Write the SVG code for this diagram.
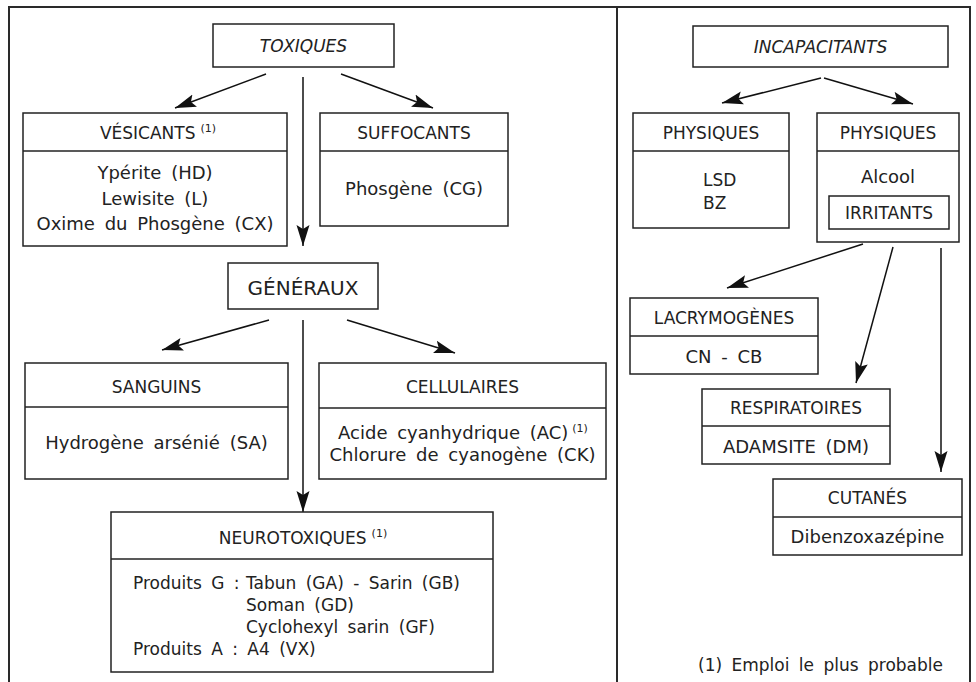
<svg xmlns="http://www.w3.org/2000/svg" width="976" height="682" viewBox="0 0 976 682">
<style>
.frame{fill:none;stroke:#2a2a2a;stroke-width:2}
.box{fill:#fff;stroke:#222;stroke-width:1.5}
.dv{stroke:#222;stroke-width:1.5}
.t{font-family:"DejaVu Sans",sans-serif;font-size:17px;fill:#222;text-anchor:middle}
.b{word-spacing:4px;font-size:18px}
.n{word-spacing:4px}
.it{font-style:italic}
.g{font-size:20px}
.l{text-anchor:start}
.sup{font-size:11px;word-spacing:0}
.conn{stroke:#111;stroke-width:1.5;fill:none;marker-end:url(#ah)}
</style>
<defs>
<marker id="ah" markerWidth="22" markerHeight="14" refX="21" refY="7" orient="auto" markerUnits="userSpaceOnUse">
<path d="M0,0.5 L21,7 L0,13.5 L4,7 z" fill="#111"/>
</marker>
</defs>
<rect width="976" height="682" fill="#fff"/>
<g id="frame">
<path class="frame" d="M9,682 V7 H970 V682"/>
<path class="frame" d="M617,7 V682"/>
</g>
<g id="connectors">
<line class="conn" x1="266" y1="74" x2="175" y2="108"/>
<line class="conn" x1="341" y1="74" x2="433" y2="108"/>
<line class="conn" x1="303" y1="77" x2="303" y2="246"/>
<line class="conn" x1="269" y1="320" x2="162" y2="350"/>
<line class="conn" x1="347" y1="320" x2="455" y2="353"/>
<line class="conn" x1="303" y1="320" x2="303" y2="512"/>
<line class="conn" x1="821" y1="78" x2="722" y2="103"/>
<line class="conn" x1="824" y1="78" x2="913" y2="104"/>
<line class="conn" x1="863" y1="244" x2="727" y2="288"/>
<line class="conn" x1="893" y1="247" x2="856" y2="383"/>
<line class="conn" x1="941" y1="248" x2="941" y2="472"/>
</g>
<g id="toxiques">
<rect class="box" x="213" y="24" width="181" height="43"/>
<text class="t it" x="303.5" y="52">TOXIQUES</text>
</g>
<g id="vesicants">
<rect class="box" x="23" y="113" width="264" height="133"/>
<line class="dv" x1="23" y1="151" x2="287" y2="151"/>
<text class="t" x="158" y="139">VÉSICANTS<tspan class="sup" dx="5" dy="-7">(1)</tspan></text>
<text class="t b" x="155" y="179">Ypérite (HD)</text>
<text class="t b" x="155" y="205">Lewisite (L)</text>
<text class="t b" x="155" y="230">Oxime du Phosgène (CX)</text>
</g>
<g id="suffocants">
<rect class="box" x="320" y="113" width="188" height="113"/>
<line class="dv" x1="320" y1="151" x2="508" y2="151"/>
<text class="t" x="414" y="139">SUFFOCANTS</text>
<text class="t b" x="414" y="195">Phosgène (CG)</text>
</g>
<g id="generaux">
<rect class="box" x="228" y="263" width="150" height="46"/>
<text class="t g" x="303" y="295">GÉNÉRAUX</text>
</g>
<g id="sanguins">
<rect class="box" x="25" y="363" width="263" height="116"/>
<line class="dv" x1="25" y1="407" x2="288" y2="407"/>
<text class="t" x="156.5" y="393">SANGUINS</text>
<text class="t b" x="156.5" y="449">Hydrogène arsénié (SA)</text>
</g>
<g id="cellulaires">
<rect class="box" x="319" y="363" width="287" height="116"/>
<line class="dv" x1="319" y1="408" x2="606" y2="408"/>
<text class="t" x="462.5" y="393">CELLULAIRES</text>
<text class="t b" x="463" y="439">Acide cyanhydrique (AC)<tspan class="sup" dx="4" dy="-7">(1)</tspan></text>
<text class="t b" x="462.5" y="461">Chlorure de cyanogène (CK)</text>
</g>
<g id="neurotoxiques">
<rect class="box" x="111" y="512" width="382" height="160"/>
<line class="dv" x1="111" y1="559" x2="493" y2="559"/>
<text class="t" x="303" y="544">NEUROTOXIQUES<tspan class="sup" dx="5" dy="-7">(1)</tspan></text>
<text class="t n l" x="133" y="589">Produits G :</text>
<text class="t n l" x="246" y="589">Tabun (GA) - Sarin (GB)</text>
<text class="t n l" x="246" y="611">Soman (GD)</text>
<text class="t n l" x="246" y="633">Cyclohexyl sarin (GF)</text>
<text class="t n l" x="133" y="655">Produits A : A4 (VX)</text>
</g>
<g id="incapacitants">
<rect class="box" x="693" y="26" width="255" height="41"/>
<text class="t it" x="820.5" y="53">INCAPACITANTS</text>
</g>
<g id="physiques1">
<rect class="box" x="633" y="113" width="156" height="115"/>
<line class="dv" x1="633" y1="151" x2="789" y2="151"/>
<text class="t" x="711" y="139">PHYSIQUES</text>
<text class="t l" x="703" y="186">LSD</text>
<text class="t l" x="703" y="209">BZ</text>
</g>
<g id="physiques2">
<rect class="box" x="817" y="113" width="142" height="129"/>
<line class="dv" x1="817" y1="151" x2="959" y2="151"/>
<text class="t" x="888" y="139">PHYSIQUES</text>
<text class="t b" x="888" y="183">Alcool</text>
</g>
<g id="irritants">
<rect class="box" x="829" y="196" width="120" height="33"/>
<text class="t" x="889" y="219">IRRITANTS</text>
</g>
<g id="lacrymogenes">
<rect class="box" x="630" y="298" width="188" height="76"/>
<line class="dv" x1="630" y1="336" x2="818" y2="336"/>
<text class="t" x="724" y="324">LACRYMOGÈNES</text>
<text class="t b" x="724" y="363">CN - CB</text>
</g>
<g id="respiratoires">
<rect class="box" x="702" y="389" width="188" height="75"/>
<line class="dv" x1="702" y1="426" x2="890" y2="426"/>
<text class="t" x="796" y="414">RESPIRATOIRES</text>
<text class="t b" x="796" y="453">ADAMSITE (DM)</text>
</g>
<g id="cutanes">
<rect class="box" x="773" y="479" width="189" height="76"/>
<line class="dv" x1="773" y1="517" x2="962" y2="517"/>
<text class="t" x="867.5" y="504">CUTANÉS</text>
<text class="t b" x="867.5" y="543">Dibenzoxazépine</text>
</g>
<g id="footnote">
<text class="t n" x="943" y="671" style="text-anchor:end">(1) Emploi le plus probable</text>
</g>
</svg>
